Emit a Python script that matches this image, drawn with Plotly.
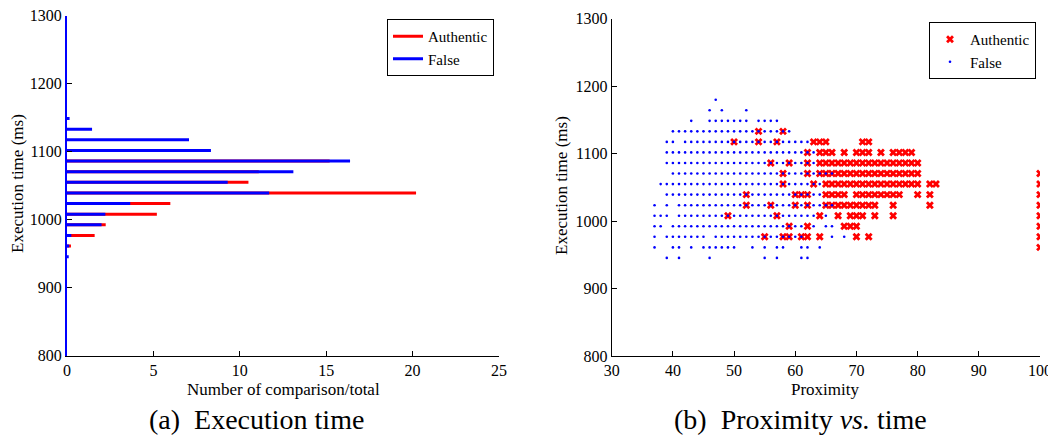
import plotly.graph_objects as go

# ---------------- Data: (a) Execution time histogram ----------------
bar_times = [945.3, 960.9, 976.6, 992.2, 1007.8, 1023.4, 1039.1, 1054.7,
             1070.3, 1085.9, 1101.6, 1117.2, 1132.8, 1148.4]
authentic_pct = [0.0, 0.23, 1.6, 2.24, 5.2, 5.98, 20.2, 10.5,
                 11.1, 15.2, 0.0, 0.0, 0.0, 0.0]
false_pct = [0.1, 0.13, 0.25, 2.0, 2.22, 3.66, 11.7, 9.3,
             13.1, 16.38, 8.33, 7.06, 1.45, 0.15]

# ---------------- Data: (b) Proximity vs. time scatter ----------------
row_times = [945.3, 960.9, 976.6, 992.2, 1007.8, 1023.4, 1039.1, 1054.7,
             1070.3, 1085.9, 1101.6, 1117.2, 1132.8, 1148.4, 1164.1, 1179.7]

false_prox_rows = [
    [39, 41, 46, 55, 57, 61, 62],
    [37, 40, 41, 43, 45, 46, 47, 48, 49, 50, 53, 55, 57, 58, 61, 62, 64],
    [37, 39, 40, 41, 42, 43, 44, 45, 47, 48, 49, 50, 51, 52, 53, 54, 55, 56, 57, 58, 59, 60, 61, 66, 68],
    [37, 38, 40, 41, 42, 43, 44, 45, 46, 47, 48, 49, 50, 51, 52, 53, 54, 55, 56, 57, 58, 59, 60, 61, 63, 65, 66],
    [37, 38, 39, 41, 42, 43, 44, 45, 46, 47, 48, 49, 50, 51, 52, 53, 54, 55, 56, 57, 58, 59, 60, 61, 62, 63, 65],
    [37, 39, 41, 42, 43, 44, 45, 46, 47, 48, 49, 50, 51, 52, 53, 54, 55, 56, 57, 58, 59, 60, 61, 62, 63, 64, 65, 66],
    [39, 40, 41, 42, 43, 44, 45, 46, 47, 48, 49, 50, 51, 52, 53, 54, 55, 56, 57, 58, 59, 60, 61, 62, 63, 64],
    [38, 39, 40, 41, 42, 43, 44, 45, 46, 47, 48, 49, 50, 51, 52, 53, 54, 55, 56, 57, 58, 59, 60, 61, 62, 63, 64],
    [40, 41, 42, 43, 44, 45, 46, 47, 48, 49, 50, 51, 52, 53, 54, 55, 56, 57, 58, 59, 60, 61, 62, 63, 64, 65, 66],
    [39, 40, 41, 42, 43, 44, 45, 46, 47, 48, 49, 50, 51, 52, 53, 54, 55, 56, 57, 58, 59, 60, 61, 62, 63],
    [39, 40, 41, 42, 43, 44, 45, 46, 47, 48, 49, 50, 51, 52, 53, 54, 55, 56, 57, 58, 59, 60, 61, 62, 63],
    [39, 40, 42, 43, 44, 45, 46, 47, 48, 49, 50, 51, 52, 53, 54, 55, 56, 57, 58, 59, 60, 61, 62],
    [40, 41, 42, 43, 44, 45, 46, 47, 48, 49, 50, 51, 52, 53, 54, 55, 56, 57, 58, 59],
    [43, 46, 47, 48, 49, 50, 51, 52, 54, 55, 56, 57],
    [46, 48, 52],
    [47],
]

authentic_prox_rows = [
    [],
    [100],
    [55, 58, 59, 61, 62, 64, 70, 72, 100],
    [59, 62, 68, 69, 70, 100],
    [49, 57, 64, 67, 69, 70, 71, 73, 76, 100],
    [52, 56, 60, 62, 65, 66, 67, 68, 69, 70, 71, 72, 73, 76, 82, 100],
    [52, 60, 61, 62, 65, 66, 67, 68, 70, 71, 72, 73, 74, 75, 76, 77, 80, 82, 100],
    [58, 63, 65, 66, 67, 68, 69, 70, 71, 72, 73, 74, 75, 76, 77, 78, 79, 80, 82, 83, 100],
    [58, 62, 64, 65, 66, 67, 68, 69, 70, 71, 72, 73, 74, 75, 76, 77, 78, 79, 80, 100],
    [56, 59, 62, 64, 65, 66, 67, 68, 69, 70, 71, 72, 73, 74, 75, 76, 77, 78, 79, 80],
    [62, 64, 65, 66, 68, 70, 71, 72, 74, 76, 77, 78, 79],
    [50, 54, 57, 63, 64, 65, 71, 72],
    [54, 58],
    [],
    [],
    [],
]

legend_names = ["Authentic", "False"]
caption_a = "(a)\u00a0 Execution time"
caption_b = "(b)\u00a0 Proximity <i>vs.</i> time"

# ---------------- Build traces ----------------
def seg_coords(values, times):
    xs, ys = [], []
    for v, t in zip(values, times):
        if v > 0:
            xs += [0, v, None]
            ys += [t, t, None]
    return xs, ys

FONT = "Liberation Serif"
fig = go.Figure()

ax, ay = seg_coords(authentic_pct, bar_times)
fig.add_trace(go.Scatter(x=ax, y=ay, mode="lines", name=legend_names[0],
                         line=dict(color="red", width=3), xaxis="x", yaxis="y",
                         legend="legend"))
fx, fy = seg_coords(false_pct, bar_times)
fig.add_trace(go.Scatter(x=fx, y=fy, mode="lines", name=legend_names[1],
                         line=dict(color="blue", width=3), xaxis="x", yaxis="y",
                         legend="legend"))

sax, say = [], []
for t, row in zip(row_times, authentic_prox_rows):
    for p in row:
        sax.append(p)
        say.append(t)
sfx, sfy = [], []
for t, row in zip(row_times, false_prox_rows):
    for p in row:
        sfx.append(p)
        sfy.append(t)

fig.add_trace(go.Scatter(x=sax, y=say, mode="markers", name=legend_names[0],
                         marker=dict(symbol="x", color="red", size=7,
                                     line=dict(width=0)),
                         xaxis="x2", yaxis="y2", legend="legend2"))
fig.add_trace(go.Scatter(x=sfx, y=sfy, mode="markers", name=legend_names[1],
                         marker=dict(symbol="circle", color="blue", size=2.6,
                                     line=dict(width=0)),
                         xaxis="x2", yaxis="y2", legend="legend2"))

OFF = 8  # page body margin
W, H = 1056 - OFF, 444 - 2 * OFF
def fx_(px):
    return (px - OFF) / W
def fy_(py):
    return (H - (py - OFF)) / H

tickfont = dict(family=FONT, size=16, color="black")
common = dict(showgrid=False, zeroline=False, showline=True, linecolor="black",
              linewidth=1, ticks="inside", ticklen=5, tickcolor="black",
              tickfont=tickfont, mirror=False, automargin=False,
              ticklabeloverflow="allow")

fig.update_layout(
    width=W, height=H,
    margin=dict(l=0, r=0, t=0, b=0, autoexpand=False),
    paper_bgcolor="white", plot_bgcolor="white",
    font=dict(family=FONT, color="black"),
    xaxis=dict(domain=[fx_(67), fx_(499)], range=[0, 25], dtick=5, anchor="y", **common),
    yaxis=dict(domain=[fy_(355.5), fy_(15.5)], range=[800, 1300], dtick=100, anchor="x",
               **{**common, "linecolor": "blue", "linewidth": 2}),
    xaxis2=dict(domain=[fx_(611.7), fx_(1040)], range=[30, 100], dtick=10, anchor="y2", **common),
    yaxis2=dict(domain=[fy_(356), fy_(18.5)], range=[800, 1300], dtick=100, anchor="x2", **common),
    legend=dict(x=fx_(494), y=fy_(19), xanchor="right", yanchor="top",
                bordercolor="black", borderwidth=1, bgcolor="white",
                font=dict(family=FONT, size=15, color="black"),
                tracegroupgap=0, itemwidth=30),
    legend2=dict(x=fx_(1036), y=fy_(22), xanchor="right", yanchor="top",
                 bordercolor="black", borderwidth=1, bgcolor="white",
                 font=dict(family=FONT, size=15, color="black"),
                 tracegroupgap=0, itemwidth=30),
    showlegend=True,
)

annos = [
    dict(text="Execution time (ms)", x=fx_(17), y=fy_(184), textangle=-90, size=17),
    dict(text="Execution time (ms)", x=fx_(561), y=fy_(186), textangle=-90, size=17),
    dict(text="Number of comparison/total", x=fx_(283), y=fy_(389), textangle=0, size=17),
    dict(text="Proximity", x=fx_(825), y=fy_(389), textangle=0, size=17),
    dict(text=caption_a, x=fx_(256), y=fy_(419), textangle=0, size=28),
    dict(text=caption_b, x=fx_(800), y=fy_(419), textangle=0, size=28),
]
for a in annos:
    fig.add_annotation(text=a["text"], x=a["x"], y=a["y"], xref="paper", yref="paper",
                       xanchor="center", yanchor="middle", showarrow=False,
                       textangle=a["textangle"],
                       font=dict(family=FONT, size=a["size"], color="black"))

fig.write_html("out.html")
